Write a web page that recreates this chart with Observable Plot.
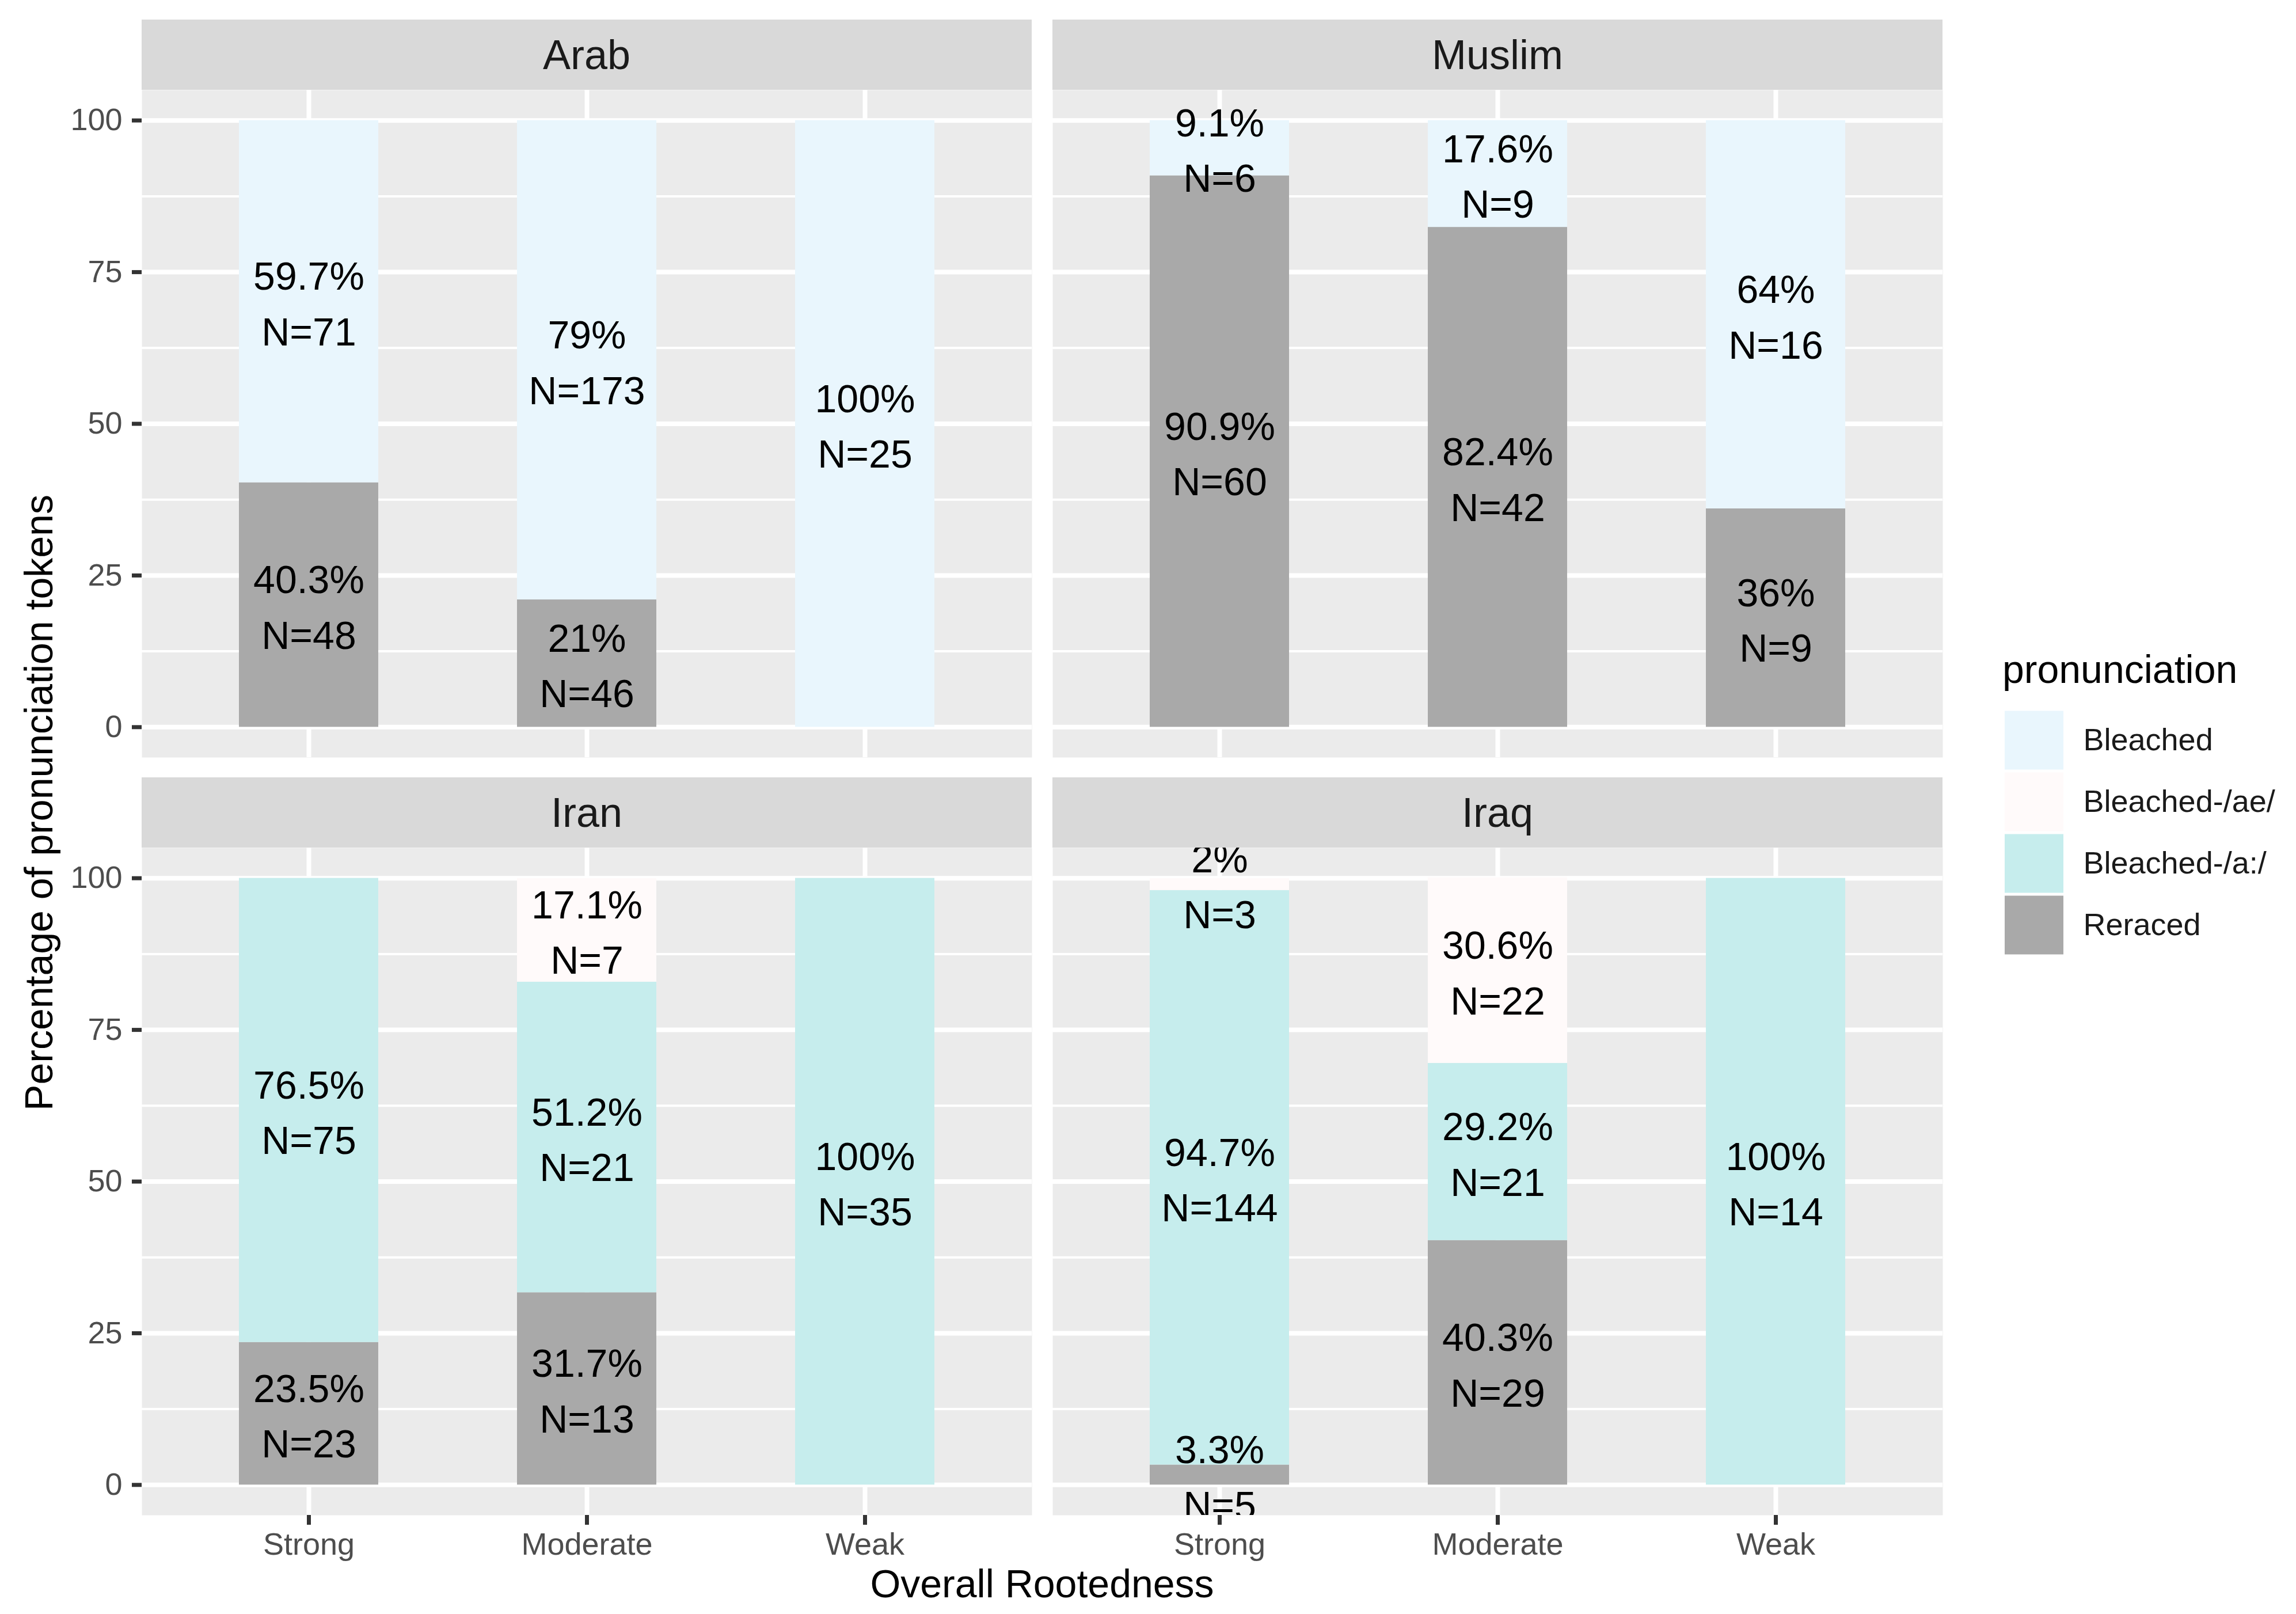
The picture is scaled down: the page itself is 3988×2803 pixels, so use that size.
<!DOCTYPE html>
<html><head><meta charset="utf-8">
<script src="https://cdn.jsdelivr.net/npm/d3@7"></script>
<script src="https://cdn.jsdelivr.net/npm/@observablehq/plot@0.6"></script>
<style>
body{margin:0;background:#fff;}
#chart{position:relative;width:3988px;height:2803px;background:#fff;font-family:"Liberation Sans",Arial,sans-serif;overflow:hidden;}
#chart svg{max-width:none !important;}
.abs{position:absolute;line-height:1;white-space:nowrap;}
.strip{position:absolute;background:#D9D9D9;color:#1A1A1A;font-size:72px;display:flex;align-items:center;justify-content:center;line-height:1;}
</style></head><body><div id="chart"></div>
<script>
// ---- data ----
const regions = ["Arab","Muslim","Iran","Iraq"];
const rootedness = ["Strong","Moderate","Weak"];
const pronunciations = ["Bleached","Bleached-/ae/","Bleached-/a:/","Reraced"];
const pronColors = ["#E9F6FD","#FFFAFA","#C6EDED","#A9A9A9"];
const stackOrder = ["Reraced","Bleached-/a:/","Bleached-/ae/","Bleached"];
const yTicks = [0,25,50,75,100];
const yMinor = [12.5,37.5,62.5,87.5];

const rowRegion = ["Arab","Arab","Arab","Arab","Arab",
  "Muslim","Muslim","Muslim","Muslim","Muslim","Muslim",
  "Iran","Iran","Iran","Iran","Iran","Iran",
  "Iraq","Iraq","Iraq","Iraq","Iraq","Iraq","Iraq"];
const rowRoot = ["Strong","Strong","Moderate","Moderate","Weak",
  "Strong","Strong","Moderate","Moderate","Weak","Weak",
  "Strong","Strong","Moderate","Moderate","Moderate","Weak",
  "Strong","Strong","Strong","Moderate","Moderate","Moderate","Weak"];
const rowPron = ["Reraced","Bleached","Reraced","Bleached","Bleached",
  "Reraced","Bleached","Reraced","Bleached","Reraced","Bleached",
  "Reraced","Bleached-/a:/","Reraced","Bleached-/a:/","Bleached-/ae/","Bleached-/a:/",
  "Reraced","Bleached-/a:/","Bleached-/ae/","Reraced","Bleached-/a:/","Bleached-/ae/","Bleached-/a:/"];
const rowPct = [40.3,59.7,21,79,100,
  90.9,9.1,82.4,17.6,36,64,
  23.5,76.5,31.7,51.2,17.1,100,
  3.3,94.7,2,40.3,29.2,30.6,100];
const rowN = [48,71,46,173,25,
  60,6,42,9,9,16,
  23,75,13,21,7,35,
  5,144,3,29,21,22,14];

const data = rowRegion.map((r,i)=>({region:r, root:rowRoot[i], pron:rowPron[i], pct:rowPct[i], n:rowN[i]}));

// ---- layout ----
const chart = document.getElementById("chart");
const FONT = '"Liberation Sans", Arial, sans-serif';
const PW = 1546, PH = 1159;
const colLeft = [246, 1828];
const stripTop = [34, 1350];
const panelTop = [156, 1472];
const STRIP_H = 122;

function place(el, left, top, w){
  const d = document.createElement("div");
  d.style.position = "absolute"; d.style.left = left+"px"; d.style.top = top+"px"; d.style.width = w+"px";
  d.appendChild(el); chart.appendChild(d);
}
function addText(txt, css){
  const d = document.createElement("div"); d.className = "abs"; d.textContent = txt;
  Object.assign(d.style, css); chart.appendChild(d); return d;
}

function panel(reg, row, col){
  const rows = data.filter(d => d.region === reg);
  const yAxis = col === 0, xAxis = row === 1;
  const mL = yAxis ? 246 : 0, mB = xAxis ? 120 : 0;
  const marks = [
    Plot.frame({fill:"#EBEBEB", stroke:"none"}),
    Plot.ruleY(yMinor, {stroke:"white", strokeWidth:4}),
    Plot.ruleY(yTicks, {stroke:"white", strokeWidth:8}),
    Plot.ruleX(rootedness, {stroke:"white", strokeWidth:8}),
    Plot.barY(rows, Plot.stackY({x:"root", y:"pct", fill:"pron", order:stackOrder})),
    Plot.text(rows, Plot.stackY({x:"root", y:"pct", z:"pron", order:stackOrder,
      text: d => `${d.pct}%\nN=${d.n}`, fontSize:68, lineHeight:1.42, fill:"black", dy:-3, clip:true}))
  ];
  if (yAxis) marks.push(Plot.axisY(yTicks, {label:null, tickSize:17, tickPadding:17, fontSize:54, stroke:"#333333", fill:"#4D4D4D", color:"#4D4D4D", strokeWidth:7}));
  if (xAxis) marks.push(Plot.axisX(rootedness, {label:null, tickSize:17, tickPadding:13, fontSize:54, stroke:"#333333", fill:"#4D4D4D", color:"#4D4D4D", strokeWidth:7}));
  const W = mL + PW;
  const svg = Plot.plot({
    width: W, height: PH + mB,
    marginLeft: mL, marginRight: 0, marginTop: 0, marginBottom: mB,
    style: {fontFamily: FONT, background: "transparent", overflow: "visible", maxWidth: "none"},
    x: {type:"band", domain: rootedness, paddingInner:0.5, paddingOuter:0.35, align:0.5, label:null, axis: xAxis ? undefined : null},
    y: {domain:[-5,105], label:null, axis: yAxis ? undefined : null},
    color: {domain: pronunciations, range: pronColors},
    marks
  });
  place(svg, colLeft[col] - mL, panelTop[row], W);
  const s = document.createElement("div"); s.className = "strip"; s.textContent = reg;
  Object.assign(s.style, {left: colLeft[col]+"px", top: stripTop[row]+"px", width: PW+"px", height: STRIP_H+"px"});
  chart.appendChild(s);
}

regions.forEach((r,i) => panel(r, Math.floor(i/2), i%2));

// axis titles
addText("Overall Rootedness", {left:"1810px", top:"2716px", fontSize:"68px", color:"#000", transform:"translateX(-50%)"});
addText("Percentage of pronunciation tokens", {left:"67px", top:"1394px", fontSize:"68px", color:"#000",
  transform:"translate(-50%,-50%) rotate(-90deg)"});

// legend
addText("pronunciation", {left:"3478px", top:"1128px", fontSize:"68px", color:"#000"});
const LW = 500;
const legend = Plot.plot({
  width: LW, height: 428,
  marginLeft: 0, marginRight: LW - 102, marginTop: 0, marginBottom: 0,
  style: {fontFamily: FONT, background: "transparent", overflow: "visible", maxWidth: "none"},
  x: {domain:[0,1], axis:null},
  y: {type:"band", domain: pronunciations, padding:0, axis:null},
  color: {domain: pronunciations, range: pronColors},
  marks: [
    Plot.barX(pronunciations, {x1:0, x2:1, y: d=>d, fill: d=>d, insetTop:2.5, insetBottom:2.5}),
    Plot.text(pronunciations, {x:1, y: d=>d, text: d=>d, textAnchor:"start", dx:34, fontSize:54, fill:"#1A1A1A"})
  ]
});
place(legend, 3482, 1232, LW);
</script></body></html>
